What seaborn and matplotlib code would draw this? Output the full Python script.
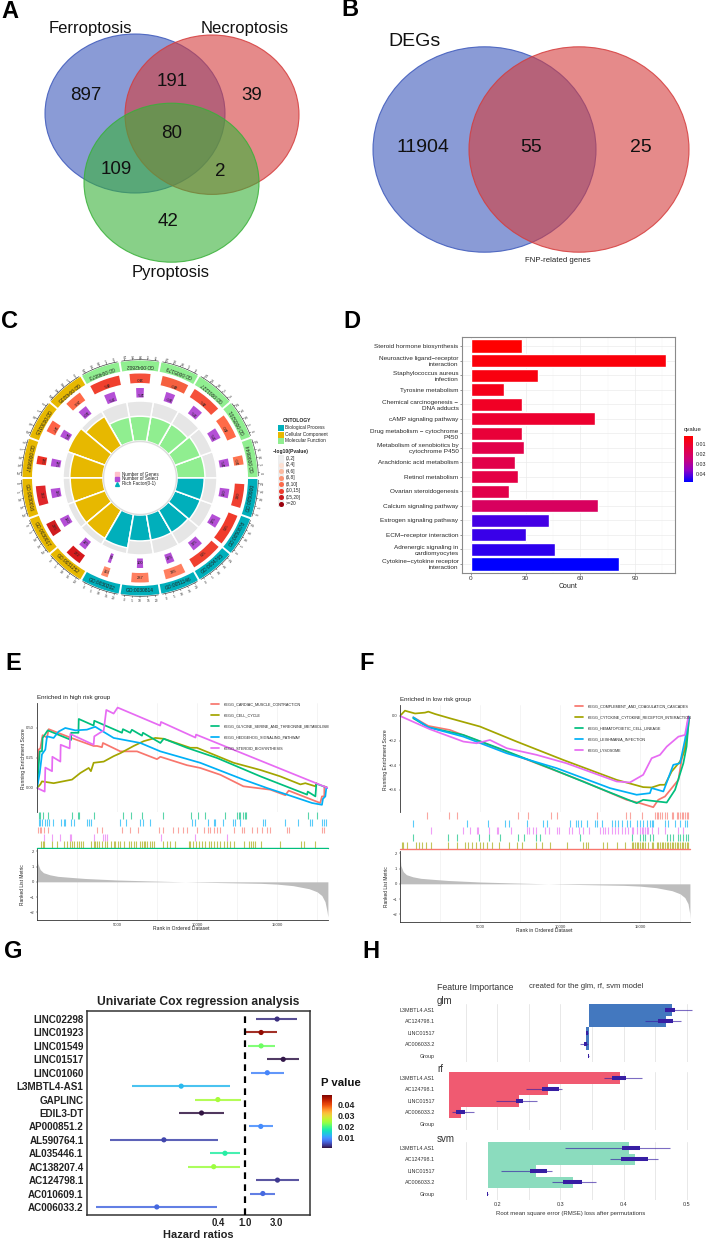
import numpy as np
import pandas as pd
import matplotlib
matplotlib.use("Agg")
import matplotlib.pyplot as plt
from matplotlib.patches import Ellipse, Rectangle
from matplotlib.colors import LinearSegmentedColormap, Normalize
from matplotlib.cm import ScalarMappable
import seaborn as sns

# ---------- data ----------
venn_a_counts = [897, 39, 42, 191, 109, 2, 80]
venn_a_names = ["Ferroptosis", "Necroptosis", "Pyroptosis"]
venn_b_counts = [11904, 55, 25]

go_ids = ["GO:0098644", "GO:0005201", "GO:0001227", "GO:0005179", "GO:0042802", "GO:0046873",
          "GO:0043235", "GO:0030315", "GO:0009897", "GO:0030016", "GO:0030017", "GO:0031252",
          "GO:0030202", "GO:0030814", "GO:0051146", "GO:0034765", "GO:0050878", "GO:0050900"]
go_groups = [0]*6 + [1]*6 + [2]*6
go_rich = [0.70, 0.68, 0.63, 0.63, 0.62, 0.62, 0.85, 1.0, 0.83, 0.82, 0.82, 0.82, 0.85, 0.65, 0.65, 0.65, 0.68, 0.68]
go_genes = [150, 400, 495, 440, 340, 495, 284, 197, 135, 322, 225, 272, 113, 287, 335, 515, 515, 390]
go_select = [125, 175, 175, 150, 125, 175, 150, 125, 125, 150, 150, 125, 50, 100, 125, 175, 175, 150]
go_gene_colors = ["#ff7450", "#ff6a48", "#f5503a", "#f5603f", "#f5503a", "#f0402e", "#ff6a48", "#ff6347",
                  "#ee2f24", "#e0262a", "#d01c1f", "#d7191c", "#ff8a6a", "#ff7f60", "#ff7f60", "#f04030",
                  "#f03a2a", "#f04030"]
go_axis_ticks = ["0", "5", "10", "15", "20"]
ontology_names = ["Biological Process", "Cellular Component", "Molecular Function"]
p_bins = ["(0,2]", "(2,4]", "(4,6]", "(6,8]", "(8,10]", "(10,15]", "(15,20]", ">=20"]
p_bin_colors = ["#f0f0f0", "#fde0d2", "#fcbba1", "#fc9272", "#fb6a4a", "#ef3b2c", "#cb181d", "#99000d"]

kegg_terms = ["Steroid hormone biosynthesis", "Neuroactive ligand\u2212receptor\ninteraction",
              "Staphylococcus aureus\ninfection", "Tyrosine metabolism", "Chemical carcinogenesis \u2212\nDNA adducts",
              "cAMP signaling pathway", "Drug metabolism \u2212 cytochrome\nP450",
              "Metabolism of xenobiotics by\ncytochrome P450", "Arachidonic acid metabolism", "Retinol metabolism",
              "Ovarian steroidogenesis", "Calcium signaling pathway", "Estrogen signaling pathway",
              "ECM\u2212receptor interaction", "Adrenergic signaling in\ncardiomyocytes",
              "Cytokine\u2212cytokine receptor\ninteraction"]
kegg_counts = [28, 107, 37, 18, 28, 68, 28, 29, 24, 26, 21, 70, 43, 30, 46, 81]
kegg_q = [0.002, 0.004, 0.005, 0.007, 0.009, 0.011, 0.013, 0.016, 0.016, 0.015, 0.016, 0.020, 0.042, 0.043, 0.044, 0.0477]

gsea_colors = ["#F8766D", "#A3A500", "#00BF7D", "#00B0F6", "#E76BF3"]
e_names = ["KEGG_CARDIAC_MUSCLE_CONTRACTION", "KEGG_CELL_CYCLE", "KEGG_GLYCINE_SERINE_AND_THREONINE_METABOLISM",
           "KEGG_HEDGEHOG_SIGNALING_PATHWAY", "KEGG_STEROID_BIOSYNTHESIS"]
e_red_x = [0, 100, 210, 350, 625, 730, 2080, 3540, 3750, 4060, 4120, 5210, 6250, 7500, 7710, 9370, 10200, 11460, 12900, 14580, 15520, 15730, 17700, 17810, 17955, 17960, 18180]
e_red_y = [0, .32, .33, .44, .42, .49, .42, .35, .35, .34, .375, .305, .305, .24, .26, .19, .167, .11, .014, -.014, -.06, -.022, -.125, -.07, -.07, .014, 0]
e_olive_x = [0, 210, 310, 1040, 2190, 2710, 3230, 3370, 3540, 4170, 4790, 5210, 6040, 6670, 7400, 7920, 9580, 10000, 12290, 13960, 15200, 16460, 16770, 17400, 17460]
e_olive_y = [0, .03, .055, .04, .07, .125, .167, .14, .21, .22, .265, .29, .35, .39, .417, .41, .335, .335, .21, .15, .097, .03, .04, .014, 0.04]
e_green_x = [0, 170, 310, 350, 670, 2130, 2135, 2590, 2610, 3540, 3580, 5310, 5370, 5830, 5930, 6560, 6620, 7710, 7920, 9370, 11250, 13960, 16880, 16920, 17400, 17460, 18180]
e_green_y = [0, .305, .305, .417, .48, .40, .46, .46, .575, .52, .56, .46, .49, .46, .485, .436, .46, .375, .41, .335, .25, .097, -.055, -.03, -.07, .036, 0]
e_blue_x = [0, 170, 310, 520, 625, 1040, 1350, 1770, 2400, 3120, 3640, 4790, 6460, 7710, 10200, 12900, 14370, 15620, 17190, 17810, 17870, 18020, 18080, 18180]
e_blue_y = [0, .125, .28, .32, .43, .417, .47, .5, .48, .486, .51, .417, .375, .305, .21, .07, 0, -.055, -.125, -.14, -.09, -.07, 0, 0]
e_mag_x = [0, 480, 520, 940, 960, 1460, 1480, 2040, 2080, 3540, 3580, 4170, 4330, 4790, 5040, 7700, 7750, 9900, 9940, 18180]
e_mag_y = [0, -.03, .17, .14, .26, .22, .36, .33, .45, .36, .43, .48, .65, .62, .67, .52, .55, .42, .445, 0]
e_series = [(e_red_x, e_red_y), (e_olive_x, e_olive_y), (e_green_x, e_green_y), (e_blue_x, e_blue_y), (e_mag_x, e_mag_y)]

e_rug_green = [100, 210, 375, 690, 2190, 2540, 2620, 3560, 5370, 5870, 6560, 7870, 9620, 10060, 10480, 11730, 12500, 12600, 12710, 12850, 12980, 13080, 16930, 17500]
e_rug_blue = [100, 210, 310, 480, 625, 770, 1000, 1520, 1660, 1770, 2150, 2330, 3120, 3230, 3370, 5170, 5580, 6460, 6600, 7040, 9690, 9850, 10660, 11040, 11140, 11620, 12250, 12350, 12660, 14100, 14270, 15480, 16310, 17080, 17190, 17810, 17960, 18080]
e_rug_red = [60, 170, 250, 420, 670, 3750, 4060, 5310, 5830, 6290, 7600, 7870, 8500, 8790, 9100, 9370, 10000, 10460, 10660, 10830, 11040, 11250, 11460, 12290, 12810, 12960, 13440, 13750, 14060, 14370, 14580, 15620, 15730, 17810, 17960]
e_rug_mag = [420, 940, 1460, 2040, 2120, 3580, 4120, 4270, 4370, 7770, 9890, 11870]
e_rug_olive = [250, 350, 420, 940, 1250, 1670, 1870, 2080, 2190, 2330, 2500, 2650, 2770, 2870, 3370, 3540, 3650, 3750, 3900, 4060, 4230, 4370, 4620, 4790, 4900, 5040, 5170, 5460, 5730, 5870, 6040, 6210, 6460, 6560, 6670, 6770, 6870, 7040, 7190, 7330, 7870, 8120, 8330, 8640, 9480, 9580, 9750, 9940, 10100, 10310, 10520, 10730, 10870, 11040, 11250, 11460, 11660, 11870, 12040, 12290, 12910, 13230, 13370, 13500, 13640, 14000, 15160, 16500, 16710, 17400]
e_rugs = [(e_rug_green, gsea_colors[2]), (e_rug_blue, gsea_colors[3]), (e_rug_red, gsea_colors[0]), (e_rug_mag, gsea_colors[4]), (e_rug_olive, gsea_colors[1])]
e_metric_x = [0, 50, 200, 400, 800, 1300, 2000, 3000, 5000, 7000, 10000, 12000, 14000, 15000, 16000, 17000, 17500, 17800, 18000, 18120, 18180]
e_metric_y = [2.0, 1.2, .8, .6, .46, .36, .3, .22, .12, .06, -.02, -.06, -.1, -.15, -.25, -.45, -.65, -.9, -1.3, -1.9, -2.3]

f_names = ["KEGG_COMPLEMENT_AND_COAGULATION_CASCADES", "KEGG_CYTOKINE_CYTOKINE_RECEPTOR_INTERACTION",
           "KEGG_HEMATOPOIETIC_CELL_LINEAGE", "KEGG_LEISHMANIA_INFECTION", "KEGG_LYSOSOME"]
f_red_x = [830, 1770, 3120, 5000, 7710, 11460, 14160, 15000, 15830, 16140, 16560, 17400, 17600, 17910, 18080]
f_red_y = [-.011, -.081, -.114, -.208, -.343, -.532, -.681, -.708, -.741, -.681, -.654, -.519, -.357, -.195, -.019]
f_olive_x = [0, 310, 520, 940, 1560, 1770, 2190, 3120, 5000, 7290, 10200, 13540, 15200, 15730, 16250, 16560, 16980, 17500, 17810, 18020]
f_olive_y = [0, .043, .035, .02, .027, .035, .016, -.019, -.086, -.208, -.357, -.519, -.578, -.581, -.559, -.559, -.451, -.37, -.276, -.005]
f_green_x = [830, 1770, 3960, 6460, 9370, 12710, 14790, 15200, 16670, 17190, 17710, 17910, 18060]
f_green_y = [-.019, -.092, -.154, -.276, -.424, -.6, -.708, -.681, -.703, -.6, -.384, -.249, -.019]
f_blue_x = [830, 1770, 3960, 6670, 9790, 13120, 14790, 15620, 15730, 16460, 17080, 17500, 17810, 18060]
f_blue_y = [-.011, -.092, -.168, -.303, -.424, -.586, -.64, -.627, -.586, -.613, -.397, -.384, -.195, -.005]
f_mag_x = [0, 1875, 3960, 4790, 5620, 6670, 8540, 10400, 13540, 14370, 15200, 15730, 16250, 16670, 17400, 17810, 18020]
f_mag_y = [0, -.108, -.208, -.222, -.195, -.262, -.316, -.384, -.532, -.54, -.478, -.343, -.316, -.249, -.168, -.154, -.005]
f_series = [(f_red_x, f_red_y), (f_olive_x, f_olive_y), (f_green_x, f_green_y), (f_blue_x, f_blue_y), (f_mag_x, f_mag_y)]

f_rug_red = [1670, 3040, 3580, 7350, 8020, 9420, 9830, 12330, 14100, 14370, 15100, 15940, 16040, 16140, 16250, 16350, 16560, 16670, 16980, 17080, 17290, 17400, 17500, 17600, 17710, 17810, 17910, 18020]
f_rug_blue = [790, 4170, 5520, 6560, 6810, 7960, 8960, 9210, 10620, 11000, 11140, 11290, 11660, 12190, 12330, 12640, 13230, 13440, 13640, 13850, 14160, 14370, 14790, 15000, 15200, 15410, 15620, 15730, 15830, 16560, 16770, 17190, 17500, 17810, 17960]
f_rug_mag = [1920, 3960, 4370, 4790, 4900, 5580, 6040, 6150, 6940, 7920, 8080, 8290, 8500, 9060, 9310, 9790, 9960, 10580, 10730, 11210, 11460, 11830, 12500, 12660, 12810, 13020, 13230, 13440, 13640, 13850, 14060, 14270, 14480, 14580, 14790, 15000, 15100, 15200, 15310, 15410, 15520, 15730, 16140, 16560, 17400, 17710]
f_rug_green = [790, 2980, 3540, 4960, 5580, 6250, 7390, 7750, 8500, 8750, 11250, 14480, 15000, 15160, 15310, 15620, 15830, 16670, 16870, 17080, 17400, 17500, 17710, 17870, 18020]
f_rug_olive = [100, 210, 420, 980, 1190, 1400, 1620, 1940, 3020, 3580, 4060, 4270, 4480, 4750, 5000, 5170, 5420, 5730, 6190, 6830, 7290, 7600, 8500, 8850, 9370, 10410, 11460, 11600, 11770, 12710, 12910, 13540, 14060, 14480, 14580, 14680, 14790, 14900, 15000, 15100, 15200, 15310, 15520, 15730, 15830, 16040, 16140, 16250, 16350, 16460, 16560, 16670, 16770, 16870, 16980, 17080, 17190, 17290, 17400, 17500, 17600, 17710, 17810, 17910, 18020]
f_rugs = [(f_rug_red, gsea_colors[0]), (f_rug_blue, gsea_colors[3]), (f_rug_mag, gsea_colors[4]), (f_rug_green, gsea_colors[2]), (f_rug_olive, gsea_colors[1])]
f_metric_x = [0, 50, 200, 400, 800, 1300, 2000, 3000, 5000, 7000, 10000, 12000, 14000, 15000, 16000, 17000, 17500, 17800, 18000, 18100, 18120]
f_metric_y = [2.0, 1.2, .8, .6, .46, .36, .3, .22, .12, .06, -.02, -.06, -.1, -.15, -.25, -.45, -.65, -.9, -1.3, -1.9, -2.3]

cox_genes = ["LINC02298", "LINC01923", "LINC01549", "LINC01517", "LINC01060", "L3MBTL4-AS1", "GAPLINC", "EDIL3-DT",
             "AP000851.2", "AL590764.1", "AL035446.1", "AC138207.4", "AC124798.1", "AC010609.1", "AC006033.2"]
cox_hr = [3.1, 1.77, 1.77, 3.84, 2.2, .108, .39, .22, 1.75, .059, .5, .337, 3.14, 1.88, .046]
cox_lo = [1.5, 1.0, 1.12, 2.19, 1.26, .0195, .177, .099, 1.16, .0089, .297, .137, 1.47, 1.22, .0055]
cox_hi = [6.3, 3.1, 2.9, 6.7, 3.88, .59, .87, .485, 2.7, .39, .86, .84, 6.6, 2.9, .383]
cox_p = [.002, .047, .0213, .0005, .008, .012, .0245, .0003, .0087, .0035, .0175, .0238, .0025, .006, .006]

fi_features = ["L3MBTL4.AS1", "AC124798.1", "LINC01517", "AC006033.2", "Group"]
fi_models = ["glm", "rf", "svm"]
fi_base = [.3455, .1234, .1847]
fi_loss = [[.476, .468, .3405, .340, .3455], [.394, .281, .234, .142, .1234], [.4087, .4176, .2607, .3194, .1847]]
fi_wlo = [[.4652, .4335, .340, .3305, .3432], [.3685, .246, .1974, .1276, .1229], [.3072, .3791, .2053, .2861, .1836]]
fi_whi = [[.509, .4916, .3442, .3437, .3453], [.4298, .303, .2623, .1625, .1239], [.4731, .4552, .2866, .3569, .1857]]
fi_blo = [[.4652, .4552, .3405, .3368, .3432], [.3812, .2713, .2291, .134, .1229], [.397, .396, .2518, .3035, .1836]]
fi_bhi = [[.4821, .4784, .3435, .3421, .3453], [.4034, .2972, .2412, .1482, .1239], [.4266, .4382, .2787, .3337, .1857]]
fi_colors = ["#4378bf", "#f05a71", "#8bdcbe"]

# ---------- figure ----------
W, H = 706, 1239
sns.set_theme(style="white")
plt.rcParams["font.family"] = ["Liberation Sans", "DejaVu Sans"]
plt.rcParams["axes.unicode_minus"] = False
fig = plt.figure(figsize=(W/100, H/100), dpi=100, facecolor="white")


def add_ax(l, t, r, b, **kw):
    return fig.add_axes([l/W, 1-b/H, (r-l)/W, (b-t)/H], **kw)


ov = add_ax(0, 0, W, H)
ov.set_xlim(0, W)
ov.set_ylim(H, 0)
ov.axis("off")
ov.set_zorder(5)
ov.patch.set_alpha(0)

for lab, x, y in [("A", 10, 12), ("B", 350, 10), ("C", 9, 321), ("D", 352, 321), ("E", 13, 663), ("F", 367, 663), ("G", 13, 951), ("H", 371, 951)]:
    ov.text(x, y, lab, fontsize=17, fontweight="bold", color="black", ha="center", va="center")

# ---------- A, B venn ----------
vn = add_ax(0, 0, W, 310)
vn.set_xlim(0, W)
vn.set_ylim(310, 0)
vn.axis("off")
venn_blue, venn_red, venn_green = "#3c58bb", "#d53c3c", "#39b139"
for (cx, cy, rx, ry, fc) in [(135, 113.5, 90, 79.5, venn_blue), (212, 114.7, 87, 79.7, venn_red), (171.5, 182.7, 87.5, 79.5, venn_green),
                             (484.5, 149.5, 111.5, 102.7, venn_blue), (579, 149.5, 110, 102.7, venn_red)]:
    vn.add_patch(Ellipse((cx, cy), 2*rx, 2*ry, fc=fc, ec="none", alpha=.6))
    vn.add_patch(Ellipse((cx, cy), 2*rx, 2*ry, fc="none", ec=fc, lw=.8, alpha=.85))
for v, x, y in zip(venn_a_counts, [86, 252, 168, 172, 116, 220, 172], [96, 95, 222, 82, 170, 172, 134]):
    ov.text(x, y, str(v), fontsize=13.5, ha="center", va="center", color="#111111")
for n, x, y in zip(venn_a_names, [90, 245, 171], [29, 29, 272]):
    ov.text(x, y, n, fontsize=12, ha="center", va="center", color="#111111")
for v, x, y in zip(venn_b_counts, [423, 531, 641], [148, 147, 148]):
    ov.text(x, y, str(v), fontsize=14, ha="center", va="center", color="#111111")
ov.text(415, 42, "DEGs", fontsize=14, ha="center", va="center", color="#111111")
ov.text(558, 260, "FNP-related genes", fontsize=5.6, ha="center", va="center", color="#222222")

# ---------- C circular ----------
cx, cy, R = 140, 478, 130
pc = add_ax(cx-R, cy-R, cx+R, cy+R, projection="polar")
pc.set_ylim(0, R)
pc.axis("off")
pc.patch.set_alpha(0)
group_colors = ["#90ee90", "#e7b800", "#00afbb"]
centers = np.deg2rad(np.arange(10, 360, 20))
for i, th in enumerate(centers):
    deg = np.rad2deg(th)
    col = group_colors[go_groups[i]]
    w20 = np.deg2rad(20)
    pc.bar(th, 40, width=w20, bottom=37, color="#e6e6e6", edgecolor="white", linewidth=1.1)
    pc.bar(th, 40*min(go_rich[i], 1), width=w20, bottom=37, color=col, edgecolor="white", linewidth=1.1)
    pc.bar(th, 9.5, width=np.deg2rad(19), bottom=108, color=col, edgecolor="none")
    pc.bar(th, 9.5, width=np.deg2rad(go_genes[i]*0.034), bottom=95, color=go_gene_colors[i], edgecolor="none")
    pc.bar(th, 9.5, width=np.deg2rad(go_select[i]*0.04), bottom=80.5, color="#b44fd6", edgecolor="none")
    rot = (deg + 90) % 360
    pc.text(th, 112.7, go_ids[i], fontsize=3.5, rotation=rot, rotation_mode="anchor", ha="center", va="center", color="#222222")
    pc.text(th, 99.7, str(go_genes[i]), fontsize=2.9, rotation=rot, rotation_mode="anchor", ha="center", va="center", color="#222222")
    pc.text(th, 85.2, str(go_select[i]), fontsize=2.9, rotation=rot, rotation_mode="anchor", ha="center", va="center", color="#222222")
    arc = np.deg2rad(np.linspace(deg-9, deg+9, 12))
    pc.plot(arc, np.full(12, 118.3), color="#222222", lw=.4)
    for t, lab in zip(np.linspace(deg-7.5, deg+7.5, 5), go_axis_ticks):
        pc.plot(np.deg2rad([t, t]), [118.3, 120], color="#222222", lw=.3)
        pc.text(np.deg2rad(t), 123.5, lab, fontsize=2.4, rotation=(t+90) % 360, rotation_mode="anchor", ha="center", va="center", color="#333333")
hole = np.deg2rad(np.linspace(0, 360, 180))
pc.plot(hole, np.full(180, 36.5), color="#dddddd", lw=1)

# center legend
for y, col, txt, mk in zip([474, 479, 484], ["#ffc0cb", "#b44fd6", "#00afbb"], ["Number of Genes", "Number of Select", "Rich Factor(0-1)"], ["s", "s", "^"]):
    ov.plot([117], [y], marker=mk, ms=2.8, color=col, ls="none")
    ov.text(122.5, y, txt, fontsize=3.3, va="center", color="#222222")
ov.text(297, 421, "ONTOLOGY", fontsize=3.6, fontweight="bold", ha="center", va="center", color="#222222")
for y, col, txt in zip([428, 434.5, 441], ["#00afbb", "#e7b800", "#90ee90"], ontology_names):
    ov.add_patch(Rectangle((277.5, y-3), 6, 6, fc=col, ec="none"))
    ov.text(285, y, txt, fontsize=3.4, va="center", color="#222222")
ov.text(273, 451, "\u2212log10(Pvalue)", fontsize=3.6, fontweight="bold", va="center", color="#222222")
for i, (txt, col) in enumerate(zip(p_bins, p_bin_colors)):
    y = 458.5 + i*6.45
    ov.add_patch(Rectangle((277.5, y-3.2), 6.4, 6.4, fc="#eeeeee", ec="none"))
    ov.plot([280.7], [y], marker="s" if i == 0 else "o", ms=2.6, color=col, ls="none")
    ov.text(285.5, y, txt, fontsize=3.4, va="center", color="#222222")

# ---------- D bars ----------
ax = add_ax(462, 337, 675, 573)
cm_q = LinearSegmentedColormap.from_list("q", ["#ff0000", "#e8003c", "#cc0078", "#8c00c8", "#0000ff"])
norm_q = Normalize(.002, .0477)
df_k = pd.DataFrame({"term": kegg_terms, "count": kegg_counts})
sns.barplot(data=df_k, y="term", x="count", hue="term", palette=[cm_q(norm_q(q)) for q in kegg_q],
            legend=False, width=.9, saturation=1, ax=ax, zorder=3)
ax.set_xlim(-4.9, 112)
ax.set_ylim(15.62, -.62)
ax.set_xticks([0, 30, 60, 90])
ax.set_xticks([15, 45, 75, 105], minor=True)
ax.grid(True, axis="both", which="major", color="#ebebeb", lw=.5)
ax.grid(True, axis="x", which="minor", color="#f2f2f2", lw=.3)
ax.tick_params(axis="both", which="major", labelsize=4.55, length=1.5, width=.4, color="#444444", labelcolor="#333333", pad=1, bottom=True, left=True)
ax.tick_params(axis="y", labelsize=4.55, labelcolor="#2a2a2a")
ax.tick_params(axis="x", which="minor", length=0)
for lab in ax.get_yticklabels():
    lab.set_linespacing(1.25)
    lab.set_ha("right")
ax.set_xlabel("Count", fontsize=5, labelpad=1, color="#222222")
ax.set_ylabel("")
for s in ax.spines.values():
    s.set_color("#8a8a8a")
    s.set_linewidth(.8)
cax = add_ax(684, 436, 693.3, 482)
cb = fig.colorbar(ScalarMappable(norm=norm_q, cmap=cm_q), cax=cax)
cax.invert_yaxis()
cb.set_ticks([.01, .02, .03, .04])
cb.set_ticklabels(["0.01", "0.02", "0.03", "0.04"])
cb.outline.set_visible(False)
cax.tick_params(labelsize=3.8, length=0, pad=1.5, labelcolor="#222222")
ov.text(684, 430, "qvalue", fontsize=4.3, va="center", color="#222222")


# ---------- E, F GSEA ----------
def gsea(l, r, t1, b1, b2, t3, b3, xmax, xlim0, ylim, yticks, ylabs, series, names, rugs, mx, my, title, tx, ty,
         leg_x, leg_y, base_col, ylab_x):
    a1 = add_ax(l, t1, r, b1)
    for (x, y), c, n in zip(series, gsea_colors, names):
        d = pd.DataFrame({"rank": x, "es": y})
        sns.lineplot(data=d, x="rank", y="es", color=c, lw=1.25, sort=False, estimator=None, errorbar=None, ax=a1, label=n)
    a1.set_xlim(xlim0, xmax)
    a1.set_ylim(*ylim)
    a1.set_yticks(yticks)
    a1.set_yticklabels(ylabs)
    a1.set_xticks(np.arange(2500, 17501, 2500))
    a1.set_xticklabels([])
    a1.grid(True, axis="x", color="#f0f0f0", lw=.5)
    a1.set_xlabel("")
    a1.set_ylabel("")
    a1.tick_params(axis="y", labelsize=3, length=1, width=.3, pad=1, labelcolor="#333333", left=True)
    a1.tick_params(axis="x", length=0)
    sns.despine(ax=a1, bottom=True)
    a1.spines["left"].set_color("#333333")
    a1.spines["left"].set_linewidth(.6)
    leg = a1.legend(loc="upper left", bbox_to_anchor=(leg_x, leg_y), bbox_transform=ov.transData, frameon=False,
                    fontsize=2.72, handlelength=2.2, handletextpad=1.4, labelspacing=1.87, borderpad=0, borderaxespad=0)
    for tx_ in leg.get_texts():
        tx_.set_color("#222222")
    ov.text(tx, ty, title, fontsize=4.5, va="center", color="#222222")
    ov.text(ylab_x, (t1+b1)/2+1, "Running Enrichment Score", fontsize=3.6, rotation=90, ha="center", va="center", color="#222222")

    a2 = add_ax(l, b1, r, b2)
    a2.axis("off")
    a2.set_xlim(xlim0, xmax)
    a2.set_ylim(5, 0)
    for i, (vals, c) in enumerate(rugs):
        a2.eventplot(vals, lineoffsets=i+.5, linelengths=.95, colors=c, linewidths=.8, alpha=.65)
    a2.axhline(5, color=base_col, lw=1.0, clip_on=False)

    a3 = add_ax(l, t3, r, b3)
    a3.fill_between(mx, my, 0, color="#bdbdbd", lw=0)
    a3.set_xlim(xlim0, xmax)
    a3.set_ylim(-2.5, 2.15)
    a3.set_yticks([-2, -1, 0, 1, 2])
    a3.set_yticklabels(["\u22122", "\u22121", "0", "1", "2"])
    a3.set_xticks([5000, 10000, 15000])
    a3.set_xticklabels(["5000", "10000", "15000"])
    a3.set_xticks(np.arange(2500, 17501, 5000), minor=True)
    a3.grid(True, axis="x", which="both", color="#f0f0f0", lw=.5)
    a3.tick_params(axis="both", which="major", labelsize=3, length=1, width=.3, pad=1, labelcolor="#333333", left=True, bottom=True)
    a3.tick_params(axis="x", which="minor", length=0)
    sns.despine(ax=a3)
    for s in ["left", "bottom"]:
        a3.spines[s].set_color("#333333")
        a3.spines[s].set_linewidth(.6)
    ov.text(ylab_x, (t3+b3)/2, "Ranked List Metric", fontsize=3.55, rotation=90, ha="center", va="center", color="#222222")
    ov.text((l+r)/2-1, b3+9, "Rank in Ordered Dataset", fontsize=3.6, ha="center", va="center", color="#222222")


gsea(37, 328, 703, 812, 848, 849, 920, 18187, 0, (-.2, .708), [0, .25, .5], ["0.00", "0.25", "0.50"],
     e_series, e_names, e_rugs, e_metric_x, e_metric_y, "Enriched in high risk group", 37, 697, 210.5, 702.5, gsea_colors[2], 23)
gsea(400, 690, 705, 812, 849, 851, 922, 18125, 0, (-.78, .089), [0, -.2, -.4, -.6], ["0.0", "\u22120.2", "\u22120.4", "\u22120.6"],
     f_series, f_names, f_rugs, f_metric_x, f_metric_y, "Enriched in low risk group", 400, 699, 574.5, 704.5, gsea_colors[0], 386)

# ---------- G forest ----------
ax = add_ax(87, 1011, 310, 1215)
cm_p = plt.get_cmap("turbo")
norm_p = Normalize(0, .0485)
y_pos = np.arange(len(cox_genes))
for y, lo, hi, p in zip(y_pos, cox_lo, cox_hi, cox_p):
    ax.plot([lo, hi], [y, y], color=cm_p(norm_p(p)), lw=1.5, solid_capstyle="butt", alpha=.85)
df_c = pd.DataFrame({"hr": cox_hr, "gene": cox_genes, "p": cox_p})
sns.scatterplot(data=df_c, x="hr", y=y_pos, c=[cm_p(norm_p(p)) for p in cox_p], s=14, linewidth=0, ax=ax, zorder=4, legend=False)
ax.set_xscale("log")
ax.axvline(1, color="black", lw=1.6, ls=(0, (3, 2.4)), zorder=5)
ax.set_xlim(.004, 9.8)
ax.set_ylim(14.6, -.6)
ax.set_yticks(y_pos)
ax.set_yticklabels(cox_genes, fontweight="bold", fontsize=7.1, color="#222222")
ax.set_xticks([.4, 1, 3])
ax.set_xticklabels(["0.4", "1.0", "3.0"], fontweight="bold", fontsize=6.9, color="#222222")
ax.minorticks_off()
ax.tick_params(axis="both", length=0, pad=2.5, bottom=False, left=False)
ax.set_xlabel("Hazard ratios", fontsize=7.9, fontweight="bold", labelpad=1, color="#222222")
ax.set_ylabel("")
ax.set_title("Univariate Cox regression analysis", fontsize=8.75, fontweight="bold", pad=4.5, color="#222222")
for s in ax.spines.values():
    s.set_color("#333333")
    s.set_linewidth(1.1)
cax = add_ax(322, 1095, 332, 1148)
cb = fig.colorbar(ScalarMappable(norm=norm_p, cmap=cm_p), cax=cax)
cb.set_ticks([.01, .02, .03, .04])
cb.set_ticklabels(["0.01", "0.02", "0.03", "0.04"])
cb.outline.set_visible(False)
cax.tick_params(labelsize=6.4, length=0, pad=4)
for lab in cax.get_yticklabels():
    lab.set_fontweight("bold")
    lab.set_color("#222222")
ov.text(321, 1083.5, "P value", fontsize=8.2, fontweight="bold", va="center", color="#111111")

# ---------- H feature importance ----------
tops = [1003.7, 1071.7, 1141.7]
for m, (name, t) in enumerate(zip(fi_models, tops)):
    ax = add_ax(437, t, 693, t+58.5)
    ax.barh(np.arange(5), np.array(fi_loss[m])-fi_base[m], left=fi_base[m], height=1.03, color=fi_colors[m], linewidth=0, zorder=2)
    ax.hlines(np.arange(5), fi_wlo[m], fi_whi[m], color="#371ea3", lw=.8, alpha=.65, zorder=3)
    ax.hlines(np.arange(5), fi_blo[m], fi_bhi[m], color="#371ea3", lw=2.9, zorder=4)
    ax.set_xlim(.1044, .51)
    ax.set_ylim(4.55, -.55)
    ax.set_yticks(np.arange(5))
    ax.set_yticklabels(fi_features, fontsize=3.9, color="#333333")
    ax.set_xticks(np.arange(.15, .51, .05))
    ax.grid(True, axis="x", color="#e8e8e8", lw=.7, zorder=0)
    ax.set_axisbelow(True)
    if m == 2:
        ax.set_xticklabels(["", "0.2", "", "0.3", "", "0.4", "", "0.5"], fontsize=3.9, color="#333333")
    else:
        ax.set_xticklabels([])
    ax.tick_params(axis="both", length=0, pad=1.5)
    sns.despine(ax=ax, left=True, bottom=True)
    ov.text(437, t-2.5, name, fontsize=7, va="center", color="#333333")
ov.text(437, 987, "Feature Importance", fontsize=6.3, va="center", color="#333333")
ov.text(529, 987, "created for the glm, rf, svm model", fontsize=5.5, va="center", color="#333333")
ov.text(571, 1213, "Root mean square error (RMSE) loss after permutations", fontsize=4.35, ha="center", va="center", color="#333333")

fig.savefig("out.png", dpi=100, facecolor="white")
